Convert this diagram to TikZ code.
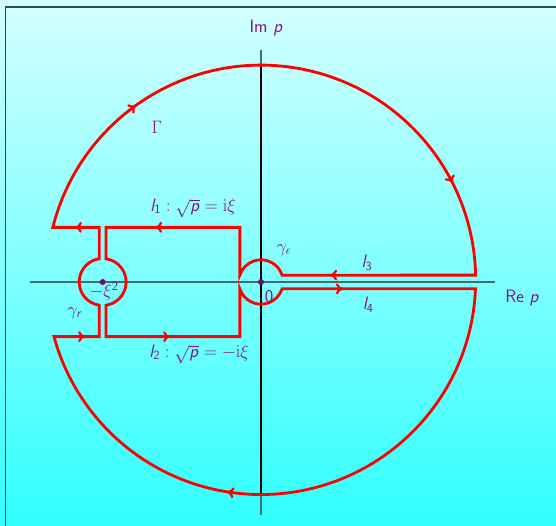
\RequirePackage{fix-cm}
\documentclass[tikz,border=0pt]{standalone}
\usetikzlibrary{arrows.meta}

\definecolor{labcol}{RGB}{125,20,140}
\definecolor{axiscol}{RGB}{65,110,110}
\definecolor{framecol}{RGB}{45,75,75}
\definecolor{topcyan}{RGB}{212,255,255}
\definecolor{botcyan}{RGB}{48,255,255}

% sans italic letters in math, as in the slides
\DeclareMathAlphabet{\mathsfit}{OT1}{cmss}{m}{sl}
\newcommand{\sfi}[1]{\textsf{\textit{#1}}}

\tikzset{
    contour/.style={red, line width=2.8pt, line join=miter},
    tip/.style={red, line width=2.2pt, -{To[length=7pt,width=11pt]}},
    lab/.style={text=labcol, font=\fontsize{18}{21}\selectfont\sffamily, inner sep=1pt},
    axis/.style={axiscol, line width=1.6pt},
    pole/.style={fill=labcol!80!black}
}

\begin{document}
\begin{tikzpicture}[x=1.5cm, y=1.5cm]

    %%% background and frame
    \useasboundingbox (-6.115,-5.717) rectangle (6.912,6.607);
    \shade[top color=topcyan, bottom color=botcyan] (-6.115,-5.717) rectangle (6.912,6.607);
    \draw[framecol, line width=1.6pt] (-5.99,-5.717) -- (-5.99,6.44) -- (6.912,6.44);

    %%% axes
    \draw[axis] (-5.41,0) -- (5.48,0);
    \draw[axis] (0,-5.46) -- (0,5.44);
    \draw[black, line width=1.6pt] (0,-4.98) -- (0,5.08);
    \node[lab] (imp) at (0.12,5.95) {Im \sfi{p}};
    \node[lab] (rep) at (6.12,-0.375) {Re \sfi{p}};

    %%% the contour
    \draw[contour] (-0.4948,1.28) -- (-3.63,1.28) -- (-3.63,0.5442)
        arc[start angle=81.64, end angle=-81.64, radius=0.55]
        -- (-3.63,-1.28) -- (-0.4948,-1.28) -- (-0.4948,-0.16)
        arc[start angle=197.92, end angle=342.08, radius=0.52]
        -- (5.0256,-0.16)
        arc[start angle=-2.393, end angle=-164.67, radius=5.03]
        -- (-3.79,-1.28) -- (-3.79,-0.5442)
        arc[start angle=-98.36, end angle=-261.64, radius=0.55]
        -- (-3.79,1.28) -- (-4.877,1.28)
        arc[start angle=165.85, end angle=1.253, radius=5.03]
        -- (0.4948,0.16)
        arc[start angle=17.92, end angle=162.08, radius=0.52]
        -- cycle;

    %%% direction arrows
    \draw[tip] (-4.26,1.28) -- (-4.36,1.28);
    \draw[tip] (-4.22,-1.28) -- (-4.12,-1.28);
    \draw[tip] (-2.38,1.28) -- (-2.48,1.28);
    \draw[tip] (-2.23,-1.28) -- (-2.13,-1.28);
    \draw[tip] (1.72,0.16) -- (1.62,0.16);
    \draw[tip] (1.82,-0.16) -- (1.92,-0.16);
    \draw[tip] ([shift={(126.7:5.03)}]0,0.05) arc[start angle=126.7, end angle=125.7, radius=5.03];
    \draw[tip] ([shift={(27.9:5.03)}]0,0.05) arc[start angle=27.9, end angle=26.9, radius=5.03];
    \draw[tip] ([shift={(-98.1:5.03)}]0,0.05) arc[start angle=-98.1, end angle=-99.1, radius=5.03];

    %%% poles
    \coordinate (O) at (0,0);
    \coordinate (Q) at (-3.71,0);
    \fill[pole] (O) circle (3pt);
    \fill[pole] (Q) circle (3pt);

    %%% labels
    \node[lab] (gam) at (-2.44,3.63) {$\Gamma$};
    \node[lab] (l1) at (-1.59,1.73) {$\mathsfit{l}_{\mathsf{1}}:\sqrt{\mathsfit{p}}=\mathrm{i}\xi$};
    \node[lab] (l2) at (-1.45,-1.69) {$\mathsfit{l}_{\mathsf{2}}:\sqrt{\mathsfit{p}}=-\mathrm{i}\xi$};
    \node[lab] (ge) at (0.54,0.75) {$\gamma_\epsilon$};
    \node[lab] (l3) at (2.48,0.45) {$\mathsfit{l}_{\mathsf{3}}$};
    \node[lab] (l4) at (2.51,-0.54) {$\mathsfit{l}_{\mathsf{4}}$};
    \node[lab] (zero) at (0.19,-0.35) {0};
    \node[lab] (xi) at (-3.68,-0.21) {$-\xi^{\mathsf{2}}$};
    \node[lab] (gr) at (-4.36,-0.73) {$\gamma_{\mathsfit{r}}$};

\end{tikzpicture}
\end{document}
